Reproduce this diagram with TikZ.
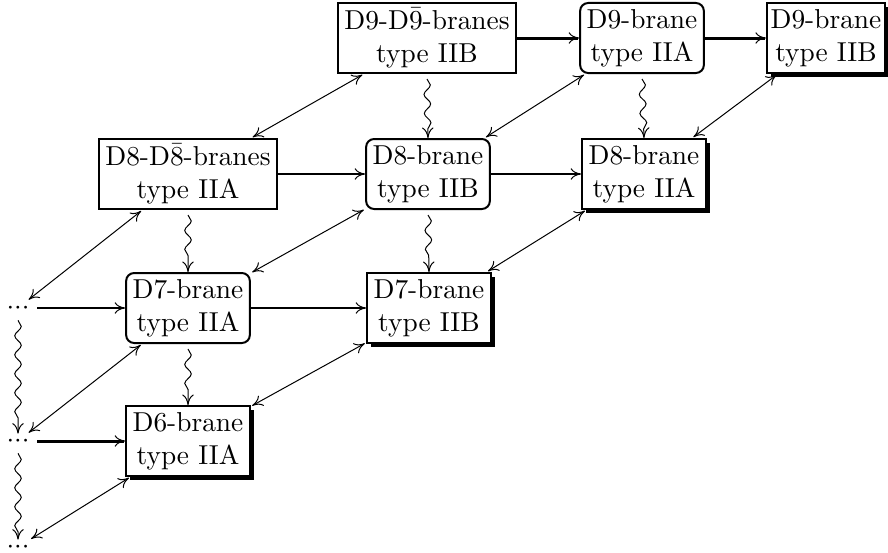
\documentclass[tikz,border=0pt]{standalone}
\usetikzlibrary{arrows.meta,decorations.pathmorphing,shadows}
\tikzset{
  xyhead/.tip={Computer Modern Rightarrow[line width=0.4pt,length=4.2pt,width=4.6pt]},
  brane/.style={draw, line width=0.8pt, fill=white, align=center,
    inner xsep=2.6pt, inner ysep=2pt, minimum height=28pt},
  plainbox/.style={brane},
  roundbox/.style={brane, rounded corners=3.2pt},
  shadowbox/.style={brane, drop shadow={shadow xshift=1.5pt, shadow yshift=-1.5pt,
    fill=black, opacity=1}},
  dotsnode/.style={inner sep=0pt, text height=5.5pt, text depth=0pt},
  harr/.style={-{xyhead}, line width=0.8pt},
  hthick/.style={harr, line width=1.2pt},
  diag/.style={{xyhead}-{xyhead}, line width=0.4pt, shorten <=0.6pt, shorten >=0.6pt},
  squig/.style={-{xyhead}, line width=0.4pt, decorate,
    decoration={snake, amplitude=1.3pt, segment length=7.6pt, post length=3pt}},
}
\newcommand{\contdots}{${\cdot}{\cdot}{\cdot}$}
\begin{document}
\begin{tikzpicture}[x=0.4pt, y=-0.4pt,
  every node/.style={font=\fontsize{10.95}{13.2}\selectfont}]
\useasboundingbox (0,0) rectangle (888,553);

% brane boxes
\node[plainbox]  (A) at (427,38)  {D9-D$\bar{9}$-branes\\type IIB};
\node[roundbox]  (B) at (642,38)  {D9-brane\\type IIA};
\node[shadowbox, inner xsep=1.5pt] (C) at (826,38) {D9-brane\\type IIB};
\node[plainbox]  (D) at (188,174) {D8-D$\bar{8}$-branes\\type IIA};
\node[roundbox]  (E) at (428,174) {D8-brane\\type IIB};
\node[shadowbox] (F) at (644,174) {D8-brane\\type IIA};
\node[roundbox]  (G) at (188,308) {D7-brane\\type IIA};
\node[shadowbox] (H) at (429,308) {D7-brane\\type IIB};
\node[shadowbox] (I) at (188,441) {D6-brane\\type IIA};

% continuation dots
\node[dotsnode] (d1) at (18,308) {\contdots};
\node[dotsnode] (d2) at (18,441) {\contdots};
\node[dotsnode] (d3) at (18,547) {\contdots};

% horizontal maps
\draw[hthick] (A) -- (B);
\draw[hthick] (B) -- (C);
\draw[harr] (D) -- (E);
\draw[harr] (E) -- (F);
\draw[harr, shorten <=3pt] (d1) -- (G);
\draw[harr] (G) -- (H);
\draw[hthick, shorten <=3pt] (d2) -- (I);

% wavy vertical maps
\draw[squig] ([yshift=-2pt]A.south) -- (E.north);
\draw[squig] ([yshift=-2pt]B.south) -- (F.north);
\draw[squig] ([yshift=-2pt]D.south) -- (G.north);
\draw[squig] ([yshift=-2pt]E.south) -- (H.north);
\draw[squig] ([yshift=-2pt]G.south) -- (I.north);
\draw[squig] ([yshift=-2pt]d1.south) -- (d2.north);
\draw[squig] ([yshift=-2pt]d2.south) -- (d3.north);

% diagonal dualities
\draw[diag] (A) -- (D);
\draw[diag] (B) -- (E);
\draw[diag] (C) -- (F);
\draw[diag] (D) -- (d1);
\draw[diag] (E) -- (G);
\draw[diag] (F) -- (H);
\draw[diag] (G) -- (d2);
\draw[diag] (H) -- (I);
\draw[diag] (I) -- (d3);
\end{tikzpicture}
\end{document}
